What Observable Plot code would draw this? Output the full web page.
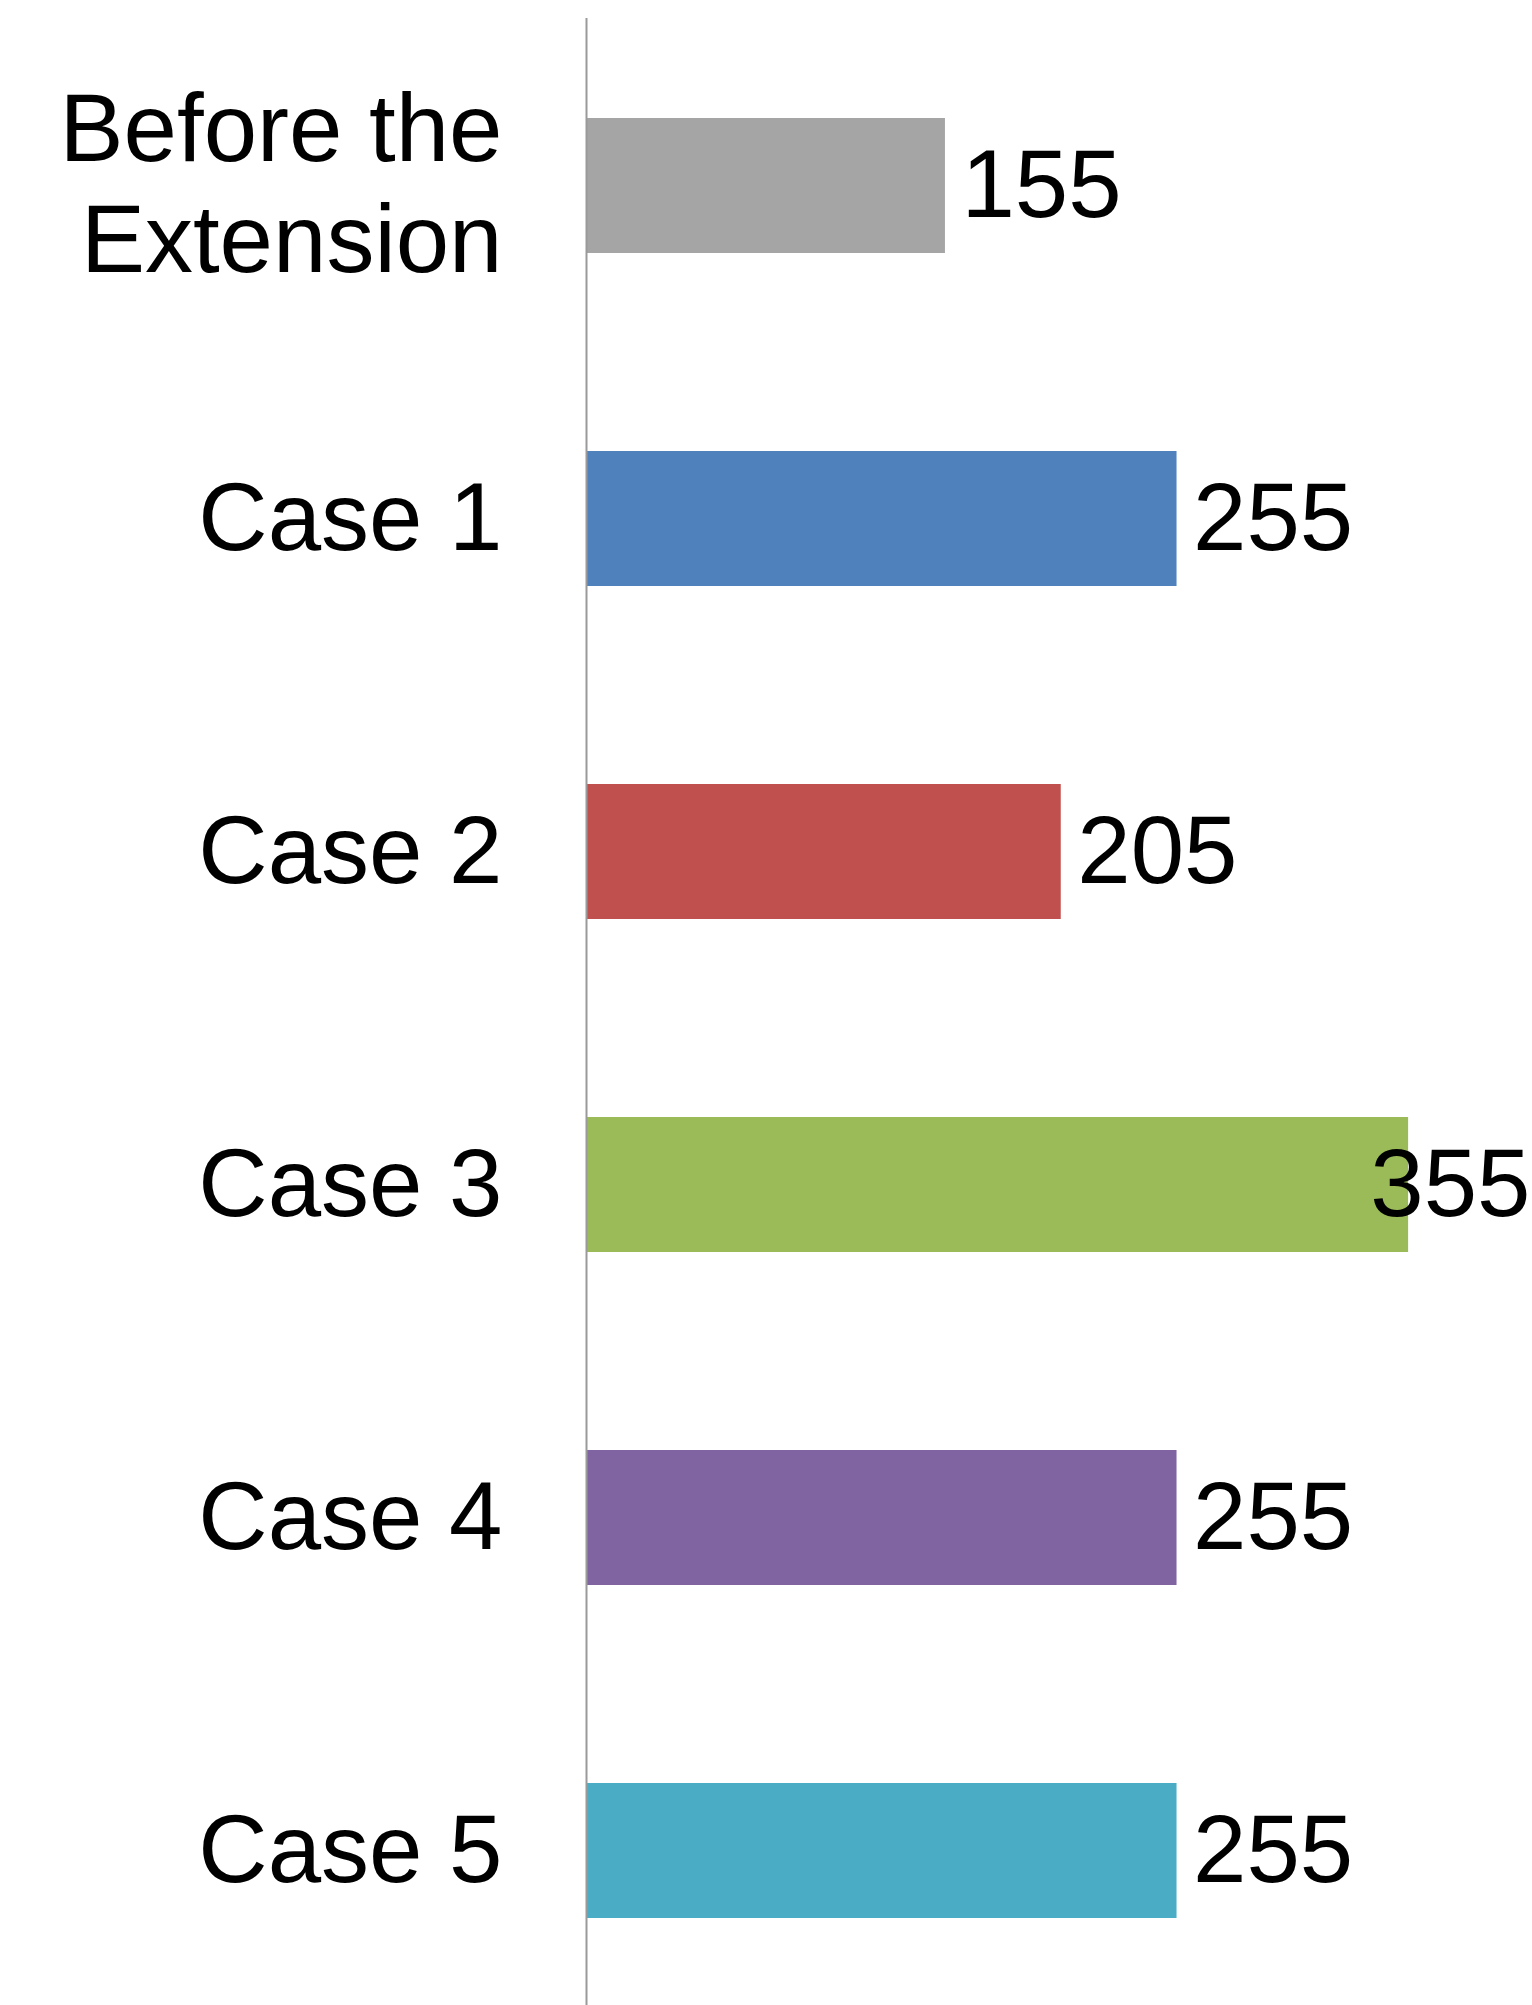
<!DOCTYPE html>
<html>
<head>
<meta charset="utf-8">
<script src="https://cdn.jsdelivr.net/npm/d3@7"></script>
<script src="https://cdn.jsdelivr.net/npm/@observablehq/plot@0.6"></script>
<style>
  html, body { margin: 0; padding: 0; background: #fff; }
  #chart svg { display: block; }
</style>
</head>
<body>
<div id="chart"></div>
<script>
// Data
const categories = ["Before the\nExtension", "Case 1", "Case 2", "Case 3", "Case 4", "Case 5"];
const values = [155, 255, 205, 355, 255, 255];
const colors = ["#a5a5a5", "#4f81bd", "#c0504d", "#9bbb59", "#8064a2", "#4bacc6"];

const data = categories.map((c, i) => ({category: c, value: values[i], color: colors[i]}));

const W = 1532, H = 2005;
const marginLeft = 586;
const xMax = 408.5;
const fontSize = 96;
const labelDx = 16;
const font = "'Liberation Sans', Arial, sans-serif";

// decide which value labels fit to the right of their bar
const pxPerUnit = (W - marginLeft) / xMax;
const labelWidth = v => String(v).length * 0.556 * fontSize;
const fits = d => marginLeft + d.value * pxPerUnit + labelDx + labelWidth(d.value) <= W;

const chart = Plot.plot({
  width: W,
  height: H,
  marginLeft: marginLeft,
  marginRight: 0,
  marginTop: 18,
  marginBottom: 0,
  style: {fontFamily: font, background: "#fff", color: "#000"},
  x: {domain: [0, xMax], axis: null},
  y: {domain: categories, range: [17.9, 2017.1], paddingInner: 0.596, paddingOuter: 0.298, axis: null},
  marks: [
    Plot.barX(data, {x: "value", y: "category", fill: "color"}),
    Plot.ruleX([0], {stroke: "#9a9a9a", strokeWidth: 2}),
    Plot.axisY({
      anchor: "left",
      label: null,
      tickSize: 0,
      tickPadding: 84,
      fontSize: fontSize,
      lineHeight: 1.16,
      fill: "#000",
      textAnchor: "end",
      dy: -5
    }),
    Plot.text(data.filter(fits), {
      x: "value", y: "category", text: d => String(d.value),
      textAnchor: "start", dx: labelDx, fontSize: fontSize, fill: "#000"
    }),
    Plot.text(data.filter(d => !fits(d)), {
      x: () => xMax, y: "category", text: d => String(d.value),
      textAnchor: "end", dx: -2, fontSize: fontSize, fill: "#000"
    })
  ]
});

document.getElementById("chart").appendChild(chart);
</script>
</body>
</html>
